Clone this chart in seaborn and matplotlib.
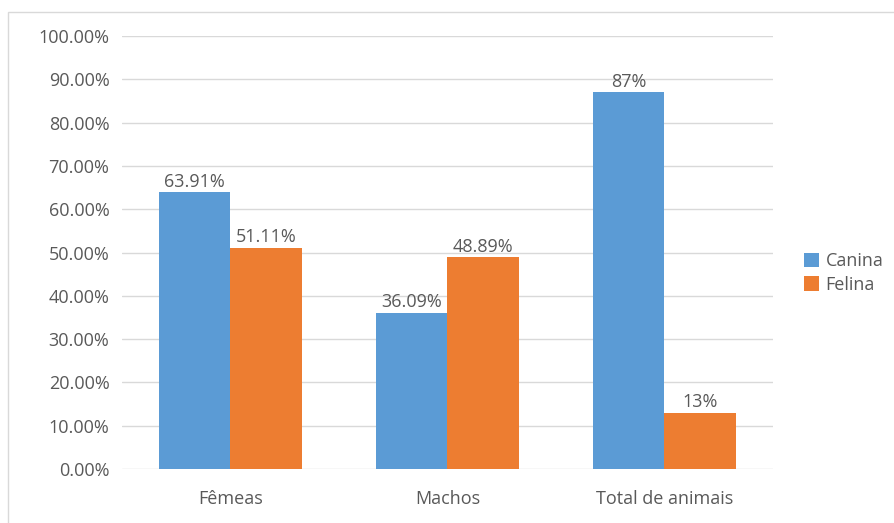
import matplotlib
matplotlib.use("Agg")
import matplotlib.pyplot as plt
import seaborn as sns
import pandas as pd
from matplotlib.patches import Rectangle, Patch

categories = ["Fêmeas", "Machos", "Total de animais"]
series_names = ["Canina", "Felina"]
canina = [63.91, 36.09, 87.0]
felina = [51.11, 48.89, 13.0]
canina_labels = ["63.91%", "36.09%", "87%"]
felina_labels = ["51.11%", "48.89%", "13%"]
yticks = [0, 10, 20, 30, 40, 50, 60, 70, 80, 90, 100]
ytick_labels = [f"{v:.2f}%" for v in yticks]

colors = {"Canina": "#5B9BD5", "Felina": "#ED7D31"}
text_color = "#595959"
grid_color = "#D9D9D9"

df = pd.DataFrame({
    "cat": categories * 2,
    "serie": ["Canina"] * 3 + ["Felina"] * 3,
    "val": canina + felina,
})

sns.set_theme(style="white")
plt.rcParams["font.family"] = ["Open Sans", "DejaVu Sans"]

W, H = 895, 523
fig = plt.figure(figsize=(W / 100, H / 100), dpi=100)
ax = fig.add_axes([122 / W, 1 - 469 / H, (773 - 122) / W, (469 - 36) / H])

sns.barplot(data=df, x="cat", y="val", hue="serie", palette=colors,
            width=0.66, ax=ax, legend=False, saturation=1, linewidth=0,
            order=categories, hue_order=series_names)

ax.set_xlim(-0.5, 2.5)
ax.set_ylim(0, 100)
ax.set_yticks(yticks)
ax.set_yticklabels(ytick_labels)
ax.set_xlabel("")
ax.set_ylabel("")
ax.set_axisbelow(True)
ax.yaxis.grid(True, color=grid_color, linewidth=1.0)
ax.xaxis.grid(False)
for s in ax.spines.values():
    s.set_visible(False)
ax.tick_params(axis="y", length=0, pad=9, labelsize=13, labelcolor=text_color)
ax.tick_params(axis="x", length=0, pad=15, labelsize=13, labelcolor=text_color)

for cont, labs in zip(ax.containers, [canina_labels, felina_labels]):
    ax.bar_label(cont, labels=labs, padding=1, fontsize=13, color=text_color)

handles = [Patch(facecolor=colors[n], edgecolor="none") for n in series_names]
leg = fig.legend(handles, series_names, loc="center left",
                 bbox_to_anchor=(795 / W, 1 - 273 / H), frameon=False,
                 fontsize=13, handlelength=0.85, handleheight=0.85,
                 handletextpad=0.35, labelspacing=0.3, borderpad=0)
for t in leg.get_texts():
    t.set_color(text_color)

fig.patches.append(Rectangle((8 / W, -0.1), 1.2, 1 - 12 / H + 0.1,
                             transform=fig.transFigure, fill=False,
                             edgecolor=grid_color, linewidth=1.0))

fig.savefig("out.png", dpi=100)
